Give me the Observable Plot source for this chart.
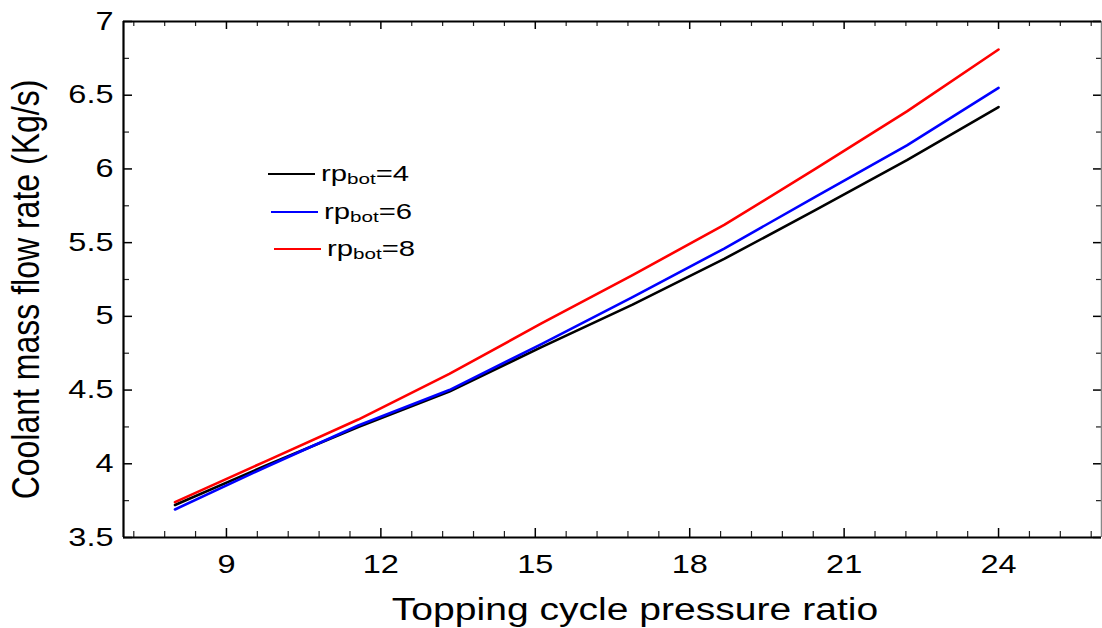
<!DOCTYPE html>
<html>
<head>
<meta charset="utf-8">
<script src="https://cdn.jsdelivr.net/npm/d3@7"></script>
<script src="https://cdn.jsdelivr.net/npm/@observablehq/plot@0.6"></script>
<style>
  html, body { margin: 0; padding: 0; background: #fff; }
  #wrap { position: relative; width: 1102px; height: 628px; overflow: hidden; font-family: "Liberation Sans", Arial, sans-serif; color: #000; }
  #chart { position: absolute; left: 0; top: 0; }
  .xtitle { position: absolute; left: 235px; top: 594px; width: 800px; text-align: center; font-size: 31px; line-height: 31px; transform: scaleX(1.26); transform-origin: center; white-space: nowrap; }
  .ytitle { position: absolute; left: -274px; top: 274px; width: 600px; text-align: center; font-size: 32px; line-height: 31px; transform: rotate(-90deg) scale(1, 1.2); transform-origin: center; white-space: nowrap; }
  .lrow { position: absolute; display: flex; align-items: center; height: 30px; }
  .sw { display: inline-block; width: 47px; height: 0; border-top: 2.6px solid; }
  .lt { display: inline-block; margin-left: 6px; font-size: 22px; line-height: 30px; transform: scaleX(1.33); transform-origin: left center; white-space: nowrap; }
  .lt sub { font-size: 15.5px; vertical-align: -3px; line-height: 0; }
</style>
</head>
<body>
<div id="wrap">
  <div id="chart"></div>
  <div class="xtitle">Topping cycle pressure ratio</div>
  <div class="ytitle">Coolant mass flow rate (Kg/s)</div>
  <div id="legend"></div>
</div>
<script>
// ---- data ----
const rpTop = [8, 9.78, 11.56, 13.33, 15.11, 16.89, 18.67, 20.44, 22.22, 24];
const flowBot4 = [3.72, 3.99, 4.25, 4.49, 4.79, 5.08, 5.39, 5.72, 6.06, 6.42];
const flowBot6 = [3.69, 3.98, 4.26, 4.50, 4.81, 5.13, 5.46, 5.81, 6.16, 6.55];
const flowBot8 = [3.74, 4.02, 4.30, 4.61, 4.95, 5.28, 5.62, 6.00, 6.39, 6.81];
const seriesNames = ["4", "6", "8"];
const seriesColors = ["#000000", "#0000ff", "#ff0000"];
const xTickLabels = [9, 12, 15, 18, 21, 24];
const yTickLabels = [3.5, 4, 4.5, 5, 5.5, 6, 6.5, 7];

// ---- layout ----
const W = 1102, H = 628, mL = 123, mT = 21, mR = 1, mB = 91;
const innerW = W - mL - mR, innerH = H - mT - mB;

const xMinor = d3.range(12, 44).map(k => +(k * 0.6).toFixed(2)).filter(v => Math.abs(v / 3 - Math.round(v / 3)) > 1e-6);
const yMinor = d3.range(3.75, 7, 0.5).map(v => +v.toFixed(2));

const seriesValues = [flowBot4, flowBot6, flowBot8];
const lineMarks = seriesValues.map((vals, s) =>
  Plot.line(rpTop, {x: d => d, y: (d, i) => vals[i], stroke: seriesColors[s], strokeWidth: 2.6, curve: "linear"})
);

const plot = Plot.plot({
  width: W, height: H,
  marginLeft: mL, marginTop: mT, marginRight: mR, marginBottom: mB,
  x: {domain: [7, 26]},
  y: {domain: [3.5, 7]},
  style: {fontFamily: "'Liberation Sans', Arial, sans-serif", background: "white", color: "black", overflow: "visible"},
  marks: [
    Plot.tickX(xTickLabels, {x: d => d, insetTop: innerH - 9, stroke: "#000", strokeWidth: 1.5}),
    Plot.tickX(xMinor, {x: d => d, insetTop: innerH - 6, stroke: "#222", strokeWidth: 1.2}),
    Plot.tickX(xTickLabels, {x: d => d, insetBottom: innerH - 8, stroke: "#000", strokeWidth: 1.5}),
    Plot.tickX(xMinor, {x: d => d, insetBottom: innerH - 5, stroke: "#222", strokeWidth: 1.2}),
    Plot.tickY(yTickLabels, {y: d => d, insetRight: innerW - 9, stroke: "#000", strokeWidth: 1.5}),
    Plot.tickY(yMinor, {y: d => d, insetRight: innerW - 6, stroke: "#222", strokeWidth: 1.2}),
    Plot.tickY(yTickLabels, {y: d => d, insetLeft: innerW - 8, stroke: "#000", strokeWidth: 1.5}),
    Plot.tickY(yMinor, {y: d => d, insetLeft: innerW - 5, stroke: "#222", strokeWidth: 1.2}),
    Plot.axisX(xTickLabels, {anchor: "bottom", tickSize: 0, tickPadding: 18, fontSize: 25, label: null, tickFormat: d => String(d)}),
    Plot.axisY(yTickLabels, {anchor: "left", tickSize: 0, tickPadding: 10, fontSize: 25, label: null, tickFormat: d => String(d)}),
    Plot.ruleX([26], {stroke: "#888", strokeWidth: 1.5}),
    Plot.ruleY([7], {stroke: "#000", strokeWidth: 2}),
    Plot.ruleX([7], {stroke: "#000", strokeWidth: 2.2}),
    Plot.ruleY([3.5], {stroke: "#000", strokeWidth: 2.2}),
    ...lineMarks
  ]
});
document.getElementById("chart").appendChild(plot);

// stretch tick labels horizontally like the reference (wrap each text in a scaling group)
function stretch(selector, sx, anchorSide) {
  const svgNS = "http://www.w3.org/2000/svg";
  plot.querySelectorAll(selector).forEach(t => {
    const r = t.getBoundingClientRect();
    const parent = t.parentNode;
    const m = parent.getScreenCTM().inverse();
    const pt = plot.createSVGPoint();
    pt.x = anchorSide === "right" ? r.right : (r.left + r.right) / 2;
    pt.y = (r.top + r.bottom) / 2;
    const loc = pt.matrixTransform(m);
    const g = document.createElementNS(svgNS, "g");
    g.setAttribute("transform", `translate(${loc.x},0) scale(${sx},1) translate(${-loc.x},0)`);
    parent.insertBefore(g, t);
    g.appendChild(t);
  });
}
stretch('g[aria-label="x-axis tick label"] text', 1.3, "center");
stretch('g[aria-label="y-axis tick label"] text', 1.3, "right");

// legend
const legend = document.getElementById("legend");
seriesNames.forEach((n, i) => {
  const row = document.createElement("div");
  row.className = "lrow";
  row.style.left = (268 + i * 3) + "px";
  row.style.top = (159 + i * 37.5) + "px";
  row.innerHTML = `<span class="sw" style="border-color:${seriesColors[i]}"></span><span class="lt">rp<sub>bot</sub>=${n}</span>`;
  legend.appendChild(row);
});
</script>
</body>
</html>
